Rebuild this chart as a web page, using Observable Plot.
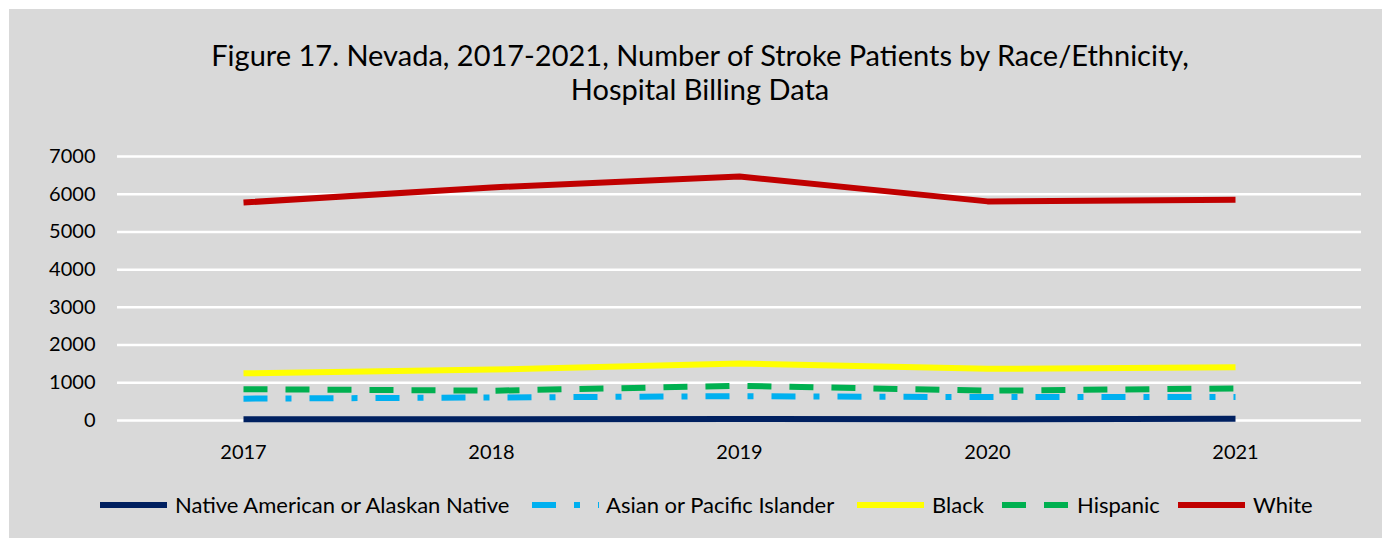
<!DOCTYPE html>
<html><head><meta charset="utf-8">
<script src="https://cdn.jsdelivr.net/npm/d3@7"></script>
<script src="https://cdn.jsdelivr.net/npm/@observablehq/plot@0.6"></script>
<style>
body{margin:0;background:#fff;font-family:Lato,"Liberation Sans",sans-serif;}
#bg{position:absolute;left:9px;top:9px;width:1373px;height:529px;background:#d9d9d9;}
#title{position:absolute;left:0;width:1400px;top:38px;text-align:center;font-size:29px;line-height:34px;color:#000;}
#chart{position:absolute;left:0;top:130px;}
#legend{position:absolute;left:0;top:492px;width:1382px;height:26px;}
.sw{position:absolute;top:8px;}
.lt{position:absolute;top:0;height:26px;line-height:26px;font-size:22px;color:#000;white-space:nowrap;}
</style></head>
<body>
<div id="bg"></div>
<div id="title">Figure 17. Nevada, 2017-2021, Number of Stroke Patients by Race/Ethnicity,<br>Hospital Billing Data</div>
<div id="chart"></div>
<div id="legend"></div>
<script>
const years = ["2017","2018","2019","2020","2021"];
const seriesNames = ["Native American or Alaskan Native","Asian or Pacific Islander","Black","Hispanic","White"];
const native = [30, 35, 40, 35, 45];
const asian = [580, 610, 645, 620, 620];
const black = [1250, 1350, 1510, 1370, 1410];
const hispanic = [830, 790, 920, 790, 850];
const white = [5780, 6180, 6470, 5810, 5850];
const yTicks = [0,1000,2000,3000,4000,5000,6000,7000];
const colors = ["#002060","#00b0f0","#ffff00","#00b050","#c00000"];
const dashes = [null,"24,18,6,18",null,"24,18",null];
const swatchX = [100,532,857,1002,1178];
const textX = [175,606,932,1077,1253];

const values = [native, asian, black, hispanic, white];
const rows = [];
values.forEach((arr,i)=>arr.forEach((v,j)=>rows.push({series:seriesNames[i], year:years[j], value:v})));

const lineMarks = seriesNames.map((s,i)=>Plot.line(rows.filter(r=>r.series===s),{
  x:"year", y:"value", stroke:colors[i], strokeWidth:6,
  strokeDasharray: dashes[i] || undefined, strokeLinecap:"butt", strokeLinejoin:"round"
}));

const plot = Plot.plot({
  width:1382, height:340,
  marginLeft:117, marginRight:21, marginTop:26, marginBottom:50,
  style:{background:"transparent", fontFamily:"Lato, 'Liberation Sans', sans-serif", fontSize:"20px", color:"#000"},
  x:{type:"point", domain:years, padding:0.5, label:null},
  y:{domain:[0,7000], ticks:yTicks, label:null},
  marks:[
    Plot.gridY(yTicks,{stroke:"#fff", strokeOpacity:1, strokeWidth:2.5}),
    Plot.axisY(yTicks,{tickSize:0, tickPadding:22, tickFormat:d=>String(d), fill:"#000", fontSize:20, label:null}),
    Plot.axisX({tickSize:0, tickPadding:24, fill:"#000", fontSize:20, label:null}),
    ...lineMarks
  ]
});
document.getElementById("chart").appendChild(plot);

const leg = document.getElementById("legend");
seriesNames.forEach((s,i)=>{
  const svg = d3.create("svg").attr("class","sw").attr("width",67).attr("height",10)
    .style("left", swatchX[i]+"px");
  svg.append("line").attr("x1",0).attr("x2",67).attr("y1",5).attr("y2",5)
    .attr("stroke",colors[i]).attr("stroke-width",6)
    .attr("stroke-dasharray",dashes[i]);
  leg.appendChild(svg.node());
  const t = document.createElement("div");
  t.className="lt"; t.style.left = textX[i]+"px"; t.textContent = s;
  leg.appendChild(t);
});
</script>
</body></html>
